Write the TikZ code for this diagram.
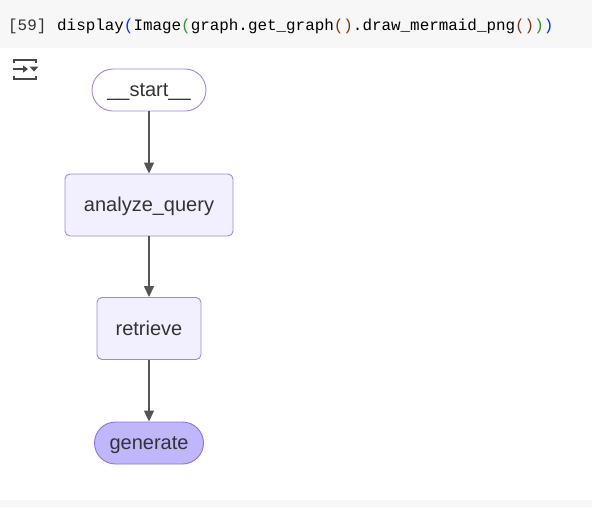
\documentclass[tikz,border=0pt]{standalone}
\usepackage{fontspec}
\setmainfont{Liberation Sans}
\newfontfamily\codefont{Liberation Mono}
\usetikzlibrary{arrows.meta,positioning}
\definecolor{Purple}{HTML}{9370DB}
\definecolor{Lilac}{HTML}{F2F0FF}
\definecolor{Deep}{HTML}{BFB6FC}
\definecolor{Ink}{HTML}{333333}
\definecolor{Edge}{HTML}{555555}
\definecolor{Band}{HTML}{F7F7F7}
\definecolor{ParA}{HTML}{0431FA}
\definecolor{ParB}{HTML}{319331}
\definecolor{ParC}{HTML}{7B3814}

\begin{document}
\begin{tikzpicture}[x=1pt,y=-1pt,>={Triangle[length=11pt,width=10pt]},
    box/.style={fill=Lilac,draw=Purple!85,line width=0.9pt,rounded corners=5pt,minimum height=62pt,inner sep=0pt,font=\fontsize{20}{23}\selectfont,text=Ink,text height=15.5pt,text depth=2.5pt},
    pill/.style={box,rounded corners=21pt,minimum height=42pt},
    link/.style={->,Edge,line width=1.4pt}]
    \useasboundingbox (0,0) rectangle (592,507);
    \fill[Band] (0,0) rectangle (592,48);
    \fill[Band] (0,500) rectangle (592,507);
    % cell header
    \node[anchor=base west,inner sep=0pt,font=\codefont\fontsize{15.9}{18}\selectfont,text=Ink] (cell) at (8,30) {[59]};
    \node[anchor=base west,inner sep=0pt,font=\codefont\fontsize{15.9}{18}\selectfont,text=black] (code) at (57,30) {display\textcolor{ParA}{(}Image\textcolor{ParB}{(}graph.get\_graph\textcolor{ParC}{()}.draw\_mermaid\_png\textcolor{ParC}{()}\textcolor{ParB}{)}\textcolor{ParA}{)}};
    % output icon
    \draw[Ink!90,line width=2pt] (14,62.5) -- (14,60) -- (36,60) -- (36,62.5);
    \draw[Ink!90,line width=2pt] (14,75.5) -- (14,78.5) -- (36,78.5) -- (36,75.5);
    \draw[Ink!90,line width=1.8pt,-{Triangle[length=5pt,width=7pt]}] (12.5,69) -- (28,69);
    \fill[Ink!90] (29.5,66.5) -- (38.5,66.5) -- (34,71.5) -- cycle;
    % graph
    \node[pill,fill=white,minimum width=114pt] (start) at (149,90) {\_\_start\_\_};
    \node[box,minimum width=168pt] (analyze) at (149,205) {analyze\_query};
    \node[box,minimum width=104pt] (retrieve) at (149,328.5) {retrieve};
    \node[pill,fill=Deep,draw=Purple,minimum width=109pt] (generate) at (149,443) {generate};
    \draw[link] (start)--(analyze);\draw[link] (analyze)--(retrieve);\draw[link] (retrieve)--(generate);
  \end{tikzpicture}
\end{document}
